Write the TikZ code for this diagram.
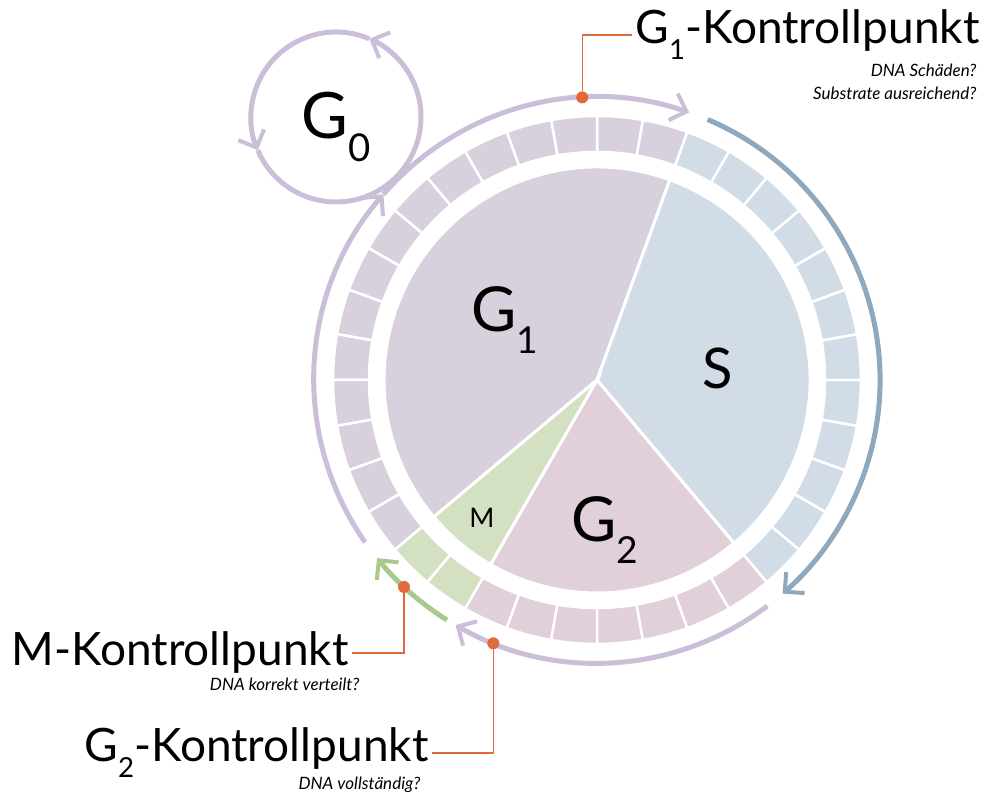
\documentclass[tikz,border=0pt]{standalone}
\usepackage{fontspec}
\setmainfont{Lato}
\usetikzlibrary{arrows.meta,calc}
\definecolor{pu}{HTML}{D9D0DD}
\definecolor{bl}{HTML}{D1DCE6}
\definecolor{pk}{HTML}{E1CFDA}
\definecolor{gr}{HTML}{D4E0C2}
\definecolor{apu}{HTML}{CBBED9}
\definecolor{abl}{HTML}{8EA8BE}
\definecolor{agr}{HTML}{A8C98F}
\definecolor{org}{HTML}{E2693A}
\newcommand{\lsub}[1]{\raisebox{-0.35em}{\scalebox{0.6}{#1}}}
\begin{document}
\begin{tikzpicture}[x=1pt,y=1pt,
  arc/.style={line width=5pt,-{Straight Barb[length=14pt,width=28pt,line width=4pt]}},
  lead/.style={org,line width=1.2pt},
  dot/.style={circle,fill=org,inner sep=0pt,minimum size=12pt},
  seg/.style={draw=white,line width=2.5pt},
  big/.style={font=\fontsize{46}{50}\selectfont},
  small/.style={font=\fontsize{17}{23}\itshape\selectfont,align=right}]
\useasboundingbox (0,0) rectangle (997,805);
\coordinate (C) at (597,425);
% pie
\fill[pu,draw=white,line width=3pt] (C) -- ++(70:213) arc[start angle=70,end angle=-140+360,radius=213] -- cycle;
\fill[bl,draw=white,line width=3pt] (C) -- ++(70:213) arc[start angle=70,end angle=-50,radius=213] -- cycle;
\fill[pk,draw=white,line width=3pt] (C) -- ++(-50:213) arc[start angle=-50,end angle=-120,radius=213] -- cycle;
\fill[gr,draw=white,line width=3pt] (C) -- ++(-120:213) arc[start angle=-120,end angle=-140,radius=213] -- cycle;
% ring
\foreach \a in {-50,-40,...,60} \filldraw[seg,fill=bl] ($(C)+(\a:228)$) arc[start angle=\a,end angle=\a+10,radius=228] -- ++(\a+10:36) arc[start angle=\a+10,end angle=\a,radius=264] -- cycle;
\foreach \a in {-120,-110,...,-60} \filldraw[seg,fill=pk] ($(C)+(\a:228)$) arc[start angle=\a,end angle=\a+10,radius=228] -- ++(\a+10:36) arc[start angle=\a+10,end angle=\a,radius=264] -- cycle;
\foreach \a in {-140,-130} \filldraw[seg,fill=gr] ($(C)+(\a:228)$) arc[start angle=\a,end angle=\a+10,radius=228] -- ++(\a+10:36) arc[start angle=\a+10,end angle=\a,radius=264] -- cycle;
\foreach \a in {70,80,...,210} \filldraw[seg,fill=pu] ($(C)+(\a:228)$) arc[start angle=\a,end angle=\a+10,radius=228] -- ++(\a+10:36) arc[start angle=\a+10,end angle=\a,radius=264] -- cycle;
% pie labels
\node (g1) at (505,485) {\fontsize{62}{62}\selectfont G\lsub{1}};
\node (s) at (718,437) {\fontsize{56}{60}\selectfont S};
\node (g2) at (605,275) {\fontsize{62}{62}\selectfont G\lsub{2}};
\node (m) at (482,287) {\fontsize{27}{30}\selectfont M};
% outer arcs
\draw[arc,abl] ($(C)+(67:283)$) arc[start angle=67,end angle=-49,radius=283];
\draw[arc,apu] ($(C)+(-53:283)$) arc[start angle=-53,end angle=-120,radius=283];
\draw[arc,agr] ($(C)+(-122:283)$) arc[start angle=-122,end angle=-141,radius=283];
\draw[arc,apu] ($(C)+(215:283)$) arc[start angle=215,end angle=139,radius=283];
\draw[arc,apu] ($(C)+(139:283)$) arc[start angle=139,end angle=71,radius=283];
% G0 loop
\coordinate (G0c) at (336,688);
\draw[arc,apu] ($(G0c)+(-55:85)$) arc[start angle=-55,end angle=67,radius=85];
\draw[arc,apu] ($(G0c)+(67:85)$) arc[start angle=67,end angle=203,radius=85];
\draw[apu,line width=5pt] ($(G0c)+(203:85)$) arc[start angle=203,end angle=305,radius=85];
\node (g0) at (336,678) {\fontsize{64}{64}\selectfont G\lsub{0}};
% checkpoints
\node[dot] (d1) at ($(C)+(93:283)$) {};
\node[dot] (dm) at ($(C)+(-133:283)$) {};
\node[dot] (d2) at ($(C)+(-111.5:283)$) {};
\node[big,anchor=west] (t1) at (632,770) {G\lsub{1}-Kontrollpunkt};
\node[small,anchor=north east] (s1) at (980,745) {DNA Schäden?\\Substrate ausreichend?};
\node[big,anchor=east] (tm) at (352,152) {M-Kontrollpunkt};
\node[small,anchor=north east] (sm) at (363,131) {DNA korrekt verteilt?};
\node[big,anchor=east] (t2) at (432,52) {G\lsub{2}-Kontrollpunkt};
\node[small,anchor=north east] (s2) at (424,32) {DNA vollständig?};
\draw[lead] (d1) |- (t1.west);
\draw[lead] (dm) |- (tm.east);
\draw[lead] (d2) |- (t2.east);
\end{tikzpicture}
\end{document}
